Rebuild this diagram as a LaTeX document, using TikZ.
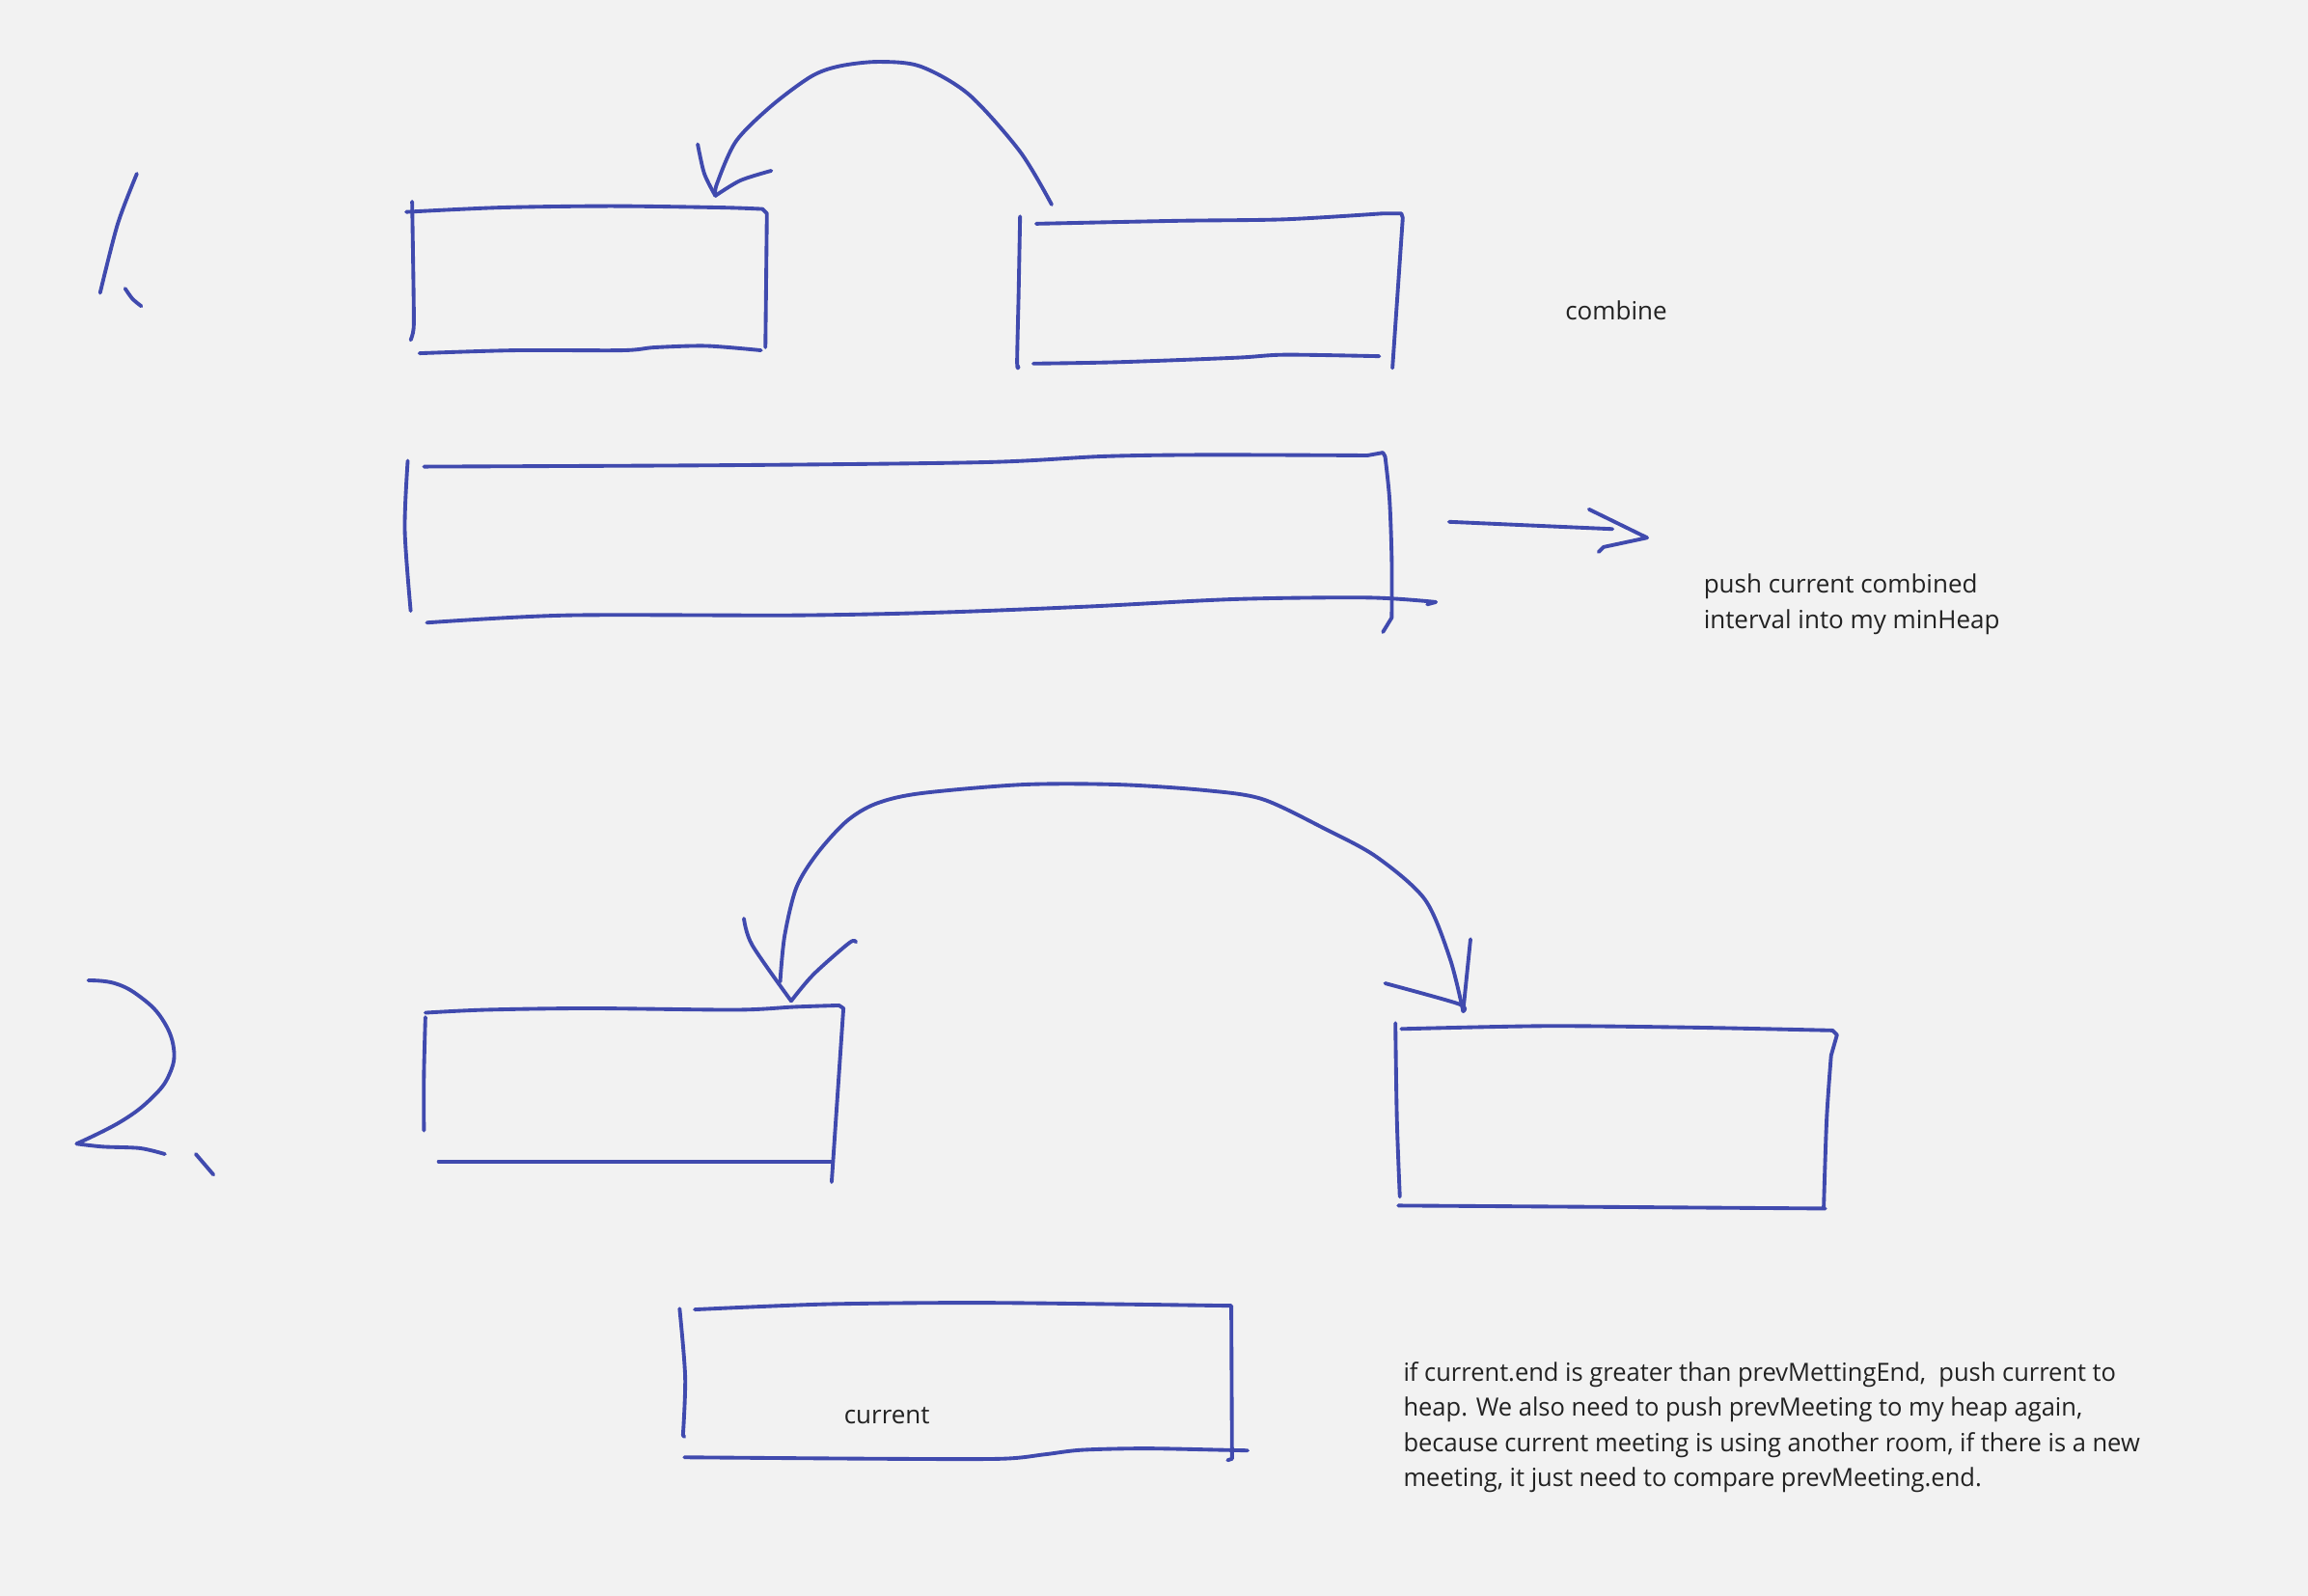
\documentclass[tikz,border=0pt]{standalone}
\usepackage{fontspec}
\setmainfont{Open Sans}
\definecolor{ink}{RGB}{64,74,174}
\definecolor{bg}{RGB}{242,242,242}
\definecolor{txt}{RGB}{34,34,34}
\begin{document}
\begin{tikzpicture}[x=0.015255cm,y=-0.015255cm,
  pen/.style={draw=ink,line width=1.1pt,line cap=round,line join=round},
  lbl/.style={text=txt,font=\fontsize{7.4}{10.4}\selectfont,inner sep=0pt,anchor=base west,align=left}]
\fill[bg] (0,0) rectangle (1568,1084);
\useasboundingbox (0,0) rectangle (1568,1084);
% "1"
\draw[pen] plot[smooth] coordinates {(93,118) (80,152) (68,199)};
\draw[pen] plot[smooth] coordinates {(85,196) (90,203) (96,208)};
% Box A
\draw[pen] plot[smooth] coordinates {(280,137) (281,201) (281,223) (279,231)};
\draw[pen] plot[smooth] coordinates {(276,144) (340,141) (415,140) (490,141) (518,142)} -- (521,145) -- (520,236);
\draw[pen] plot[smooth] coordinates {(285,240) (350,238) (423,238) (445,236) (480,235) (517,238)};
% arrow 1
\draw[pen] plot[smooth] coordinates {(714.5,139) (693,103) (658,64) (625,45) (596,42) (570,45) (551,52) (524,72) (500,96) (487,125) (486,133)};
\draw[pen] plot[smooth] coordinates {(474,98) (478.5,118) (486,133)};
\draw[pen] plot[smooth] coordinates {(486,133) (503,122.6) (524,116)};
% Box B
\draw[pen] plot[smooth] coordinates {(693,147) (692,200) (691,246) (692,249)};
\draw[pen] plot[smooth] coordinates {(704,152) (800,150) (873,149) (940,145)} -- (952,145) -- (953,148) -- (946,250);
\draw[pen] plot[smooth] coordinates {(702,247) (760,246) (840,243) (873,241) (937,242)};
\node[lbl] (combine) at (1063,217) {combine};
% Box C
\draw[pen] plot[smooth] coordinates {(277,313) (275,360) (279,415)};
\draw[pen] plot[smooth] coordinates {(288,317) (500,316) (670,314) (750,310) (820,309) (929,309.4)} -- (939.5,307.5) -- (941,310);
\draw[pen] plot[smooth] coordinates {(941,310) (944,339) (945.5,380) (945.5,419.6)} -- (939.5,429.4);
\draw[pen] plot[smooth] coordinates {(290,423) (385,418) (540,418) (640,416) (740,412) (840,407) (930,406) (975.5,409)} -- (969.6,410.6);
% arrow right
\draw[pen] (984.5,354.5) -- (1095.5,359.4);
\draw[pen] (1079.5,346) -- (1119,365.3) -- (1089.5,371.6) -- (1086,375);
\node[lbl] (push) at (1157,427) {push current combined\\interval into my minHeap};
% "2"
\draw[pen] plot[smooth,tension=0.7] coordinates {(60,666) (78,668) (95,677) (110,692) (118,712) (115,730) (103,746) (82,762) (52,777)} -- plot[smooth] coordinates {(52,777) (70,779) (95,780) (112,784)};
\draw[pen] (133,784) -- (145,798);
% Box D
\draw[pen] plot[smooth] coordinates {(289,691) (288,730) (288,768)};
\draw[pen] plot[smooth] coordinates {(289,688) (330,686) (400,685) (500,686) (540,684) (570,683)} -- (573,685) -- (565,803);
\draw[pen] (298,789) -- (565,789);
% bottom arrow
\draw[pen] plot[smooth] coordinates {(530,667) (533,636) (541,603) (555,580) (575,558) (595,546) (625,539) (695,533) (760,533) (820,537) (858,543) (900,563) (935,582) (968,611) (985,651) (994,687)};
\draw[pen] plot[smooth] coordinates {(505.4,624) (511,642) (537.5,680)};
\draw[pen] plot[smooth] coordinates {(537.5,680) (552.6,662) (577,640.5) (581.5,640)};
\draw[pen] plot[smooth] coordinates {(941,668) (991,682) (994,687)};
\draw[pen] (999,638) -- (994,687);
% Box E
\draw[pen] plot[smooth] coordinates {(948,695) (949,760) (951,813)};
\draw[pen] plot[smooth] coordinates {(952,699) (1050,697) (1150,698) (1245,700)} -- (1248,703) -- (1244,717) -- plot[smooth] coordinates {(1244,717) (1241,760) (1239,820)};
\draw[pen] plot[smooth] coordinates {(950,819) (1100,820) (1240,821)};
% Box F
\draw[pen] plot[smooth] coordinates {(461.7,889) (465.5,935.4) (464,975)} -- (465,976);
\draw[pen] plot[smooth] coordinates {(472,889.6) (560,886) (660,885) (760,886) (833,887)} -- (836.5,887) -- (837,991) -- (834,992);
\draw[pen] plot[smooth] coordinates {(465,990) (600,991) (680,991) (710,988) (735,985) (778,984) (830,985) (847.6,985.4)};
\node[lbl] (current) at (573,967) {current};
\node[lbl,font=\fontsize{7.4}{10.4}\selectfont\addfontfeature{FakeStretch=0.98}] (note) at (953,1010) {if current.end is greater than prevMettingEnd,~ push current to\\heap. We also need to push prevMeeting to my heap again,\\because current meeting is using another room, if there is a new\\meeting, it just need to compare prevMeeting.end.};
\end{tikzpicture}
\end{document}
